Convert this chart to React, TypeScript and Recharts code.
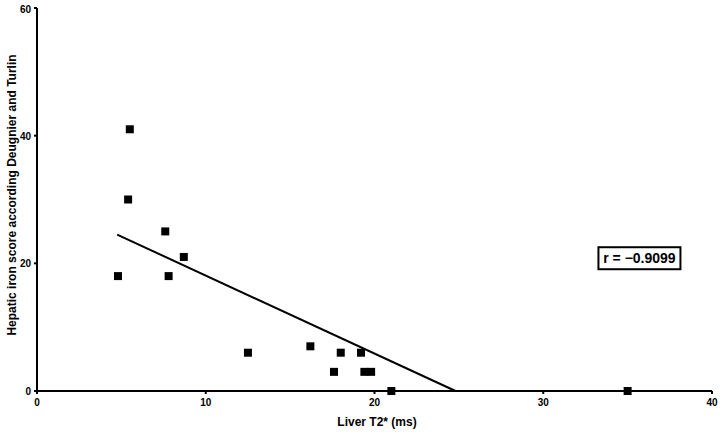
import {
  ScatterChart,
  Scatter,
  XAxis,
  YAxis,
  ZAxis,
  ReferenceLine,
  ReferenceDot,
  Label,
} from "recharts";

// Liver T2* (ms) vs hepatic iron score
const t2Values = [5.5, 5.4, 7.6, 8.7, 4.8, 7.8, 12.5, 16.2, 18.0, 17.6, 19.2, 19.4, 19.8, 21.0, 35.0];
const ironScores = [41, 30, 25, 21, 18, 18, 6, 7, 6, 3, 6, 3, 3, 0, 0];

// regression line end points
const fitX = [4.75, 24.8];
const fitY = [24.5, 0];

const xTicks = [0, 10, 20, 30, 40];
const yTicks = [0, 20, 40, 60];
const rLabel = "r = \u22120.9099";
const xTitle = "Liver T2* (ms)";
const yTitle = "Hepatic iron score according Deugnier and Turlin";

const FONT = "Liberation Sans, Arial, Helvetica, sans-serif";

const points = t2Values.map((x, i) => ({ x, y: ironScores[i] }));

function RBox(props: { cx?: number; cy?: number }) {
  const { cx = 0, cy = 0 } = props;
  return (
    <g>
      <rect x={cx - 41} y={cy - 11} width={82} height={22} fill="#fff" stroke="#000" strokeWidth={2} />
      <text x={cx} y={cy + 5} textAnchor="middle" fontFamily={FONT} fontWeight="bold" fontSize={14} fill="#000">
        {rLabel}
      </text>
    </g>
  );
}

function XTick(props: any) {
  const { x, y, payload } = props;
  return (
    <text x={x} y={y + 10} textAnchor="middle" fontFamily={FONT} fontWeight="bold" fontSize={10} fill="#000">
      {payload.value}
    </text>
  );
}

function YTick(props: any) {
  const { x, y, payload } = props;
  return (
    <text x={x - 1} y={y + 4} textAnchor="end" fontFamily={FONT} fontWeight="bold" fontSize={10} fill="#000">
      {payload.value}
    </text>
  );
}

export default function App() {
  return (
    <div style={{ position: "absolute", left: 0, top: 0, background: "#fff" }}>
      <ScatterChart width={728} height={432} margin={{ top: 8, right: 16, bottom: 0, left: 0 }}>
        <XAxis
          type="number"
          dataKey="x"
          domain={[0, 40]}
          ticks={xTicks}
          height={41}
          tickSize={3}
          axisLine={{ stroke: "#000", strokeWidth: 2 }}
          tickLine={{ stroke: "#000", strokeWidth: 2 }}
          tick={<XTick />}
        >
          <Label
            content={() => (
              <text x={377} y={426} textAnchor="middle" fontFamily={FONT} fontWeight="bold" fontSize={12} fill="#000">
                {xTitle}
              </text>
            )}
          />
        </XAxis>
        <YAxis
          type="number"
          dataKey="y"
          domain={[0, 60]}
          ticks={yTicks}
          width={37}
          tickSize={3}
          axisLine={{ stroke: "#000", strokeWidth: 2 }}
          tickLine={{ stroke: "#000", strokeWidth: 2 }}
          tick={<YTick />}
        >
          <Label
            content={() => (
              <text
                x={15.5}
                y={195}
                transform="rotate(-90 15.5 195)"
                textAnchor="middle"
                fontFamily={FONT}
                fontWeight="bold"
                fontSize={12}
                fill="#000"
              >
                {yTitle}
              </text>
            )}
          />
        </YAxis>
        <ZAxis range={[64, 64]} />
        <ReferenceLine
          segment={[
            { x: fitX[0], y: fitY[0] },
            { x: fitX[1], y: fitY[1] },
          ]}
          stroke="#000"
          strokeWidth={2}
          ifOverflow="visible"
        />
        <Scatter data={points} shape="square" fill="#000" isAnimationActive={false} />
        <ReferenceDot x={35.7} y={20.8} r={0} shape={<RBox />} ifOverflow="visible" />
      </ScatterChart>
    </div>
  );
}
